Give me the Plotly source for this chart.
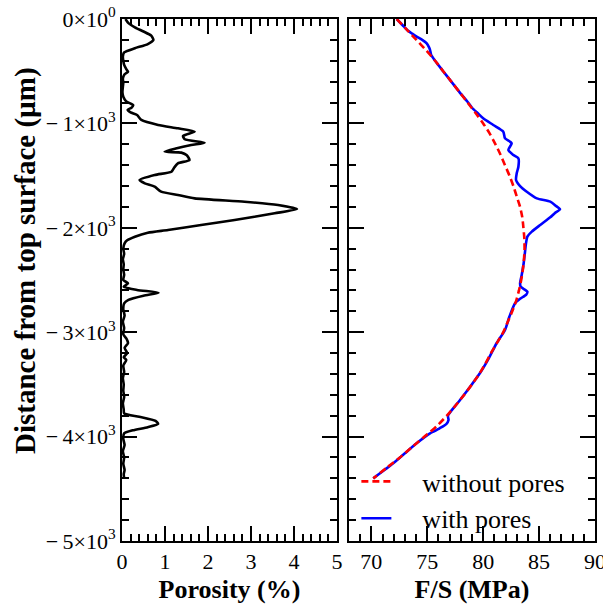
import plotly.graph_objects as go

# ---------------- data ----------------
# Left panel: porosity (%) vs distance from top surface (µm)
por_depth = [0, -40, -80, -120, -160, -200, -240, -280, -320, -360, -400, -440, -480, -505, -530,
             -570, -610, -650, -700, -745, -790, -825, -850, -870, -895, -920, -967, -1015, -1047,
             -1079, -1121, -1152, -1185, -1207, -1240, -1271, -1280, -1303, -1351, -1382, -1420,
             -1463, -1494, -1542, -1574, -1606, -1654, -1686, -1718, -1750, -1782, -1820, -1861,
             -1925, -1973, -2021, -2047, -2085, -2120, -2149, -2200, -2250, -2300, -2350, -2400,
             -2450, -2500, -2532, -2564, -2595, -2622, -2650, -2690, -2723, -2780, -2840, -2900,
             -2960, -3020, -3060, -3105, -3150, -3200, -3240, -3265, -3320, -3380, -3440, -3500,
             -3560, -3620, -3680, -3740, -3777, -3810, -3850, -3879, -3910, -3940, -3969, -4020,
             -4080, -4140, -4200, -4260, -4320, -4360, -4400]
porosity = [0.08, 0.15, 0.3, 0.5, 0.68, 0.73, 0.6, 0.3, 0.05, 0.02, 0.03, 0.05, 0.1, 0.14, 0.06,
            0.02, 0.03, 0.02, 0.01, 0.03, 0.1, 0.26, 0.22, 0.13, 0.2, 0.35, 0.45, 0.84, 1.3,
            1.69, 1.42, 1.46, 1.92, 1.61, 1.25, 0.99, 1.38, 1.5, 1.57, 1.3, 1.22,
            1.15, 0.76, 0.41, 0.53, 0.76, 0.91, 1.3, 1.69, 2.85, 3.63, 4.07, 3.55,
            2.62, 1.84, 1.07, 0.6, 0.3, 0.12, 0.06, 0.03, 0.05, 0.02, 0.04, 0.03,
            0.05, 0.03, 0.14, 0.04, 0.35, 0.85, 0.5, 0.15, 0.05, 0.03, 0.06, 0.02,
            0.05, 0.03, 0.1, 0.14, 0.06, 0.12, 0.04, 0.1, 0.03, 0.05, 0.02, 0.04,
            0.03, 0.05, 0.02, 0.04, 0.05, 0.4, 0.78, 0.84, 0.6, 0.25, 0.05, 0.03,
            0.06, 0.02, 0.05, 0.03, 0.06, 0.04, 0.05]

# Right panel: F/S (MPa) vs distance
fs_depth_nopore = [0, -100, -200, -300, -400, -500, -600, -700, -800, -900, -1000, -1100, -1200,
                   -1300, -1400, -1500, -1600, -1700, -1800, -1900, -2000, -2100, -2200, -2300,
                   -2400, -2500, -2600, -2700, -2800, -2900, -3000, -3100, -3200, -3300, -3400,
                   -3500, -3600, -3700, -3800, -3900, -4000, -4100, -4200, -4300, -4400]
fs_nopore = [72.27, 73.15, 74.03, 74.9, 75.7, 76.42, 77.15, 77.88, 78.6, 79.32, 80.0, 80.6, 81.1,
             81.55, 81.95, 82.35, 82.7, 83.0, 83.3, 83.5, 83.6, 83.68, 83.7, 83.65,
             83.55, 83.4, 83.2, 82.95, 82.6, 82.2, 81.8, 81.25, 80.7, 80.2, 79.65,
             79.0, 78.3, 77.55, 76.75, 75.85, 74.75, 73.65, 72.55, 71.35, 70.17]

fs_depth_pore = [0, -60, -105, -140, -169, -200, -233, -270, -297, -345, -400, -500, -600, -700,
                 -800, -850, -900, -951, -1015, -1079, -1143, -1175, -1191, -1255, -1303, -1334,
                 -1415, -1478, -1542, -1600, -1654, -1718, -1750, -1790, -1823, -1860, -1900,
                 -1973, -2037, -2085, -2149, -2250, -2340, -2450, -2532, -2564, -2612, -2640,
                 -2680, -2723, -2850, -2979, -3106, -3250, -3394, -3520, -3649, -3760, -3800,
                 -3841, -3880, -3921, -3950, -3969, -4064, -4160, -4256, -4400]
fs_pore = [72.27, 72.8, 73.2, 73.65, 74.05, 74.55, 74.95, 75.15, 75.25, 75.35, 75.7, 76.42, 77.15,
           77.88, 78.65, 79.0, 79.5, 80.0, 80.9, 81.8, 81.95, 82.4, 82.55, 82.25, 82.7, 83.15,
           83.15, 83.0, 82.94, 83.3, 83.9, 84.8, 86.0, 86.5, 86.87, 86.4, 86.0,
           85.1, 84.35, 83.95, 83.83, 83.72, 83.62, 83.45, 83.3, 83.35, 83.95, 83.85,
           83.3, 82.85, 82.35, 81.95, 81.2, 80.5, 79.7, 78.85, 77.93, 77.1, 76.85,
           76.9, 76.7, 76.1, 75.6, 75.25, 74.05, 73.0, 71.96, 70.17]

MINUS = "−\u2009"
y_tickvals = [0, -1000, -2000, -3000, -4000, -5000]
y_ticktext = ["0×10<sup>0</sup>", MINUS + "1×10<sup>3</sup>", MINUS + "2×10<sup>3</sup>",
              MINUS + "3×10<sup>3</sup>", MINUS + "4×10<sup>3</sup>", MINUS + "5×10<sup>3</sup>"]
x1_tickvals = [0, 1, 2, 3, 4, 5]
x2_tickvals = [70, 75, 80, 85, 90]

FONT = "'Liberation Serif', 'Times New Roman', Times, serif"
PAD = "\u00a0" * 4

fig = go.Figure()
fig.add_trace(go.Scatter(x=porosity, y=por_depth, mode="lines", xaxis="x", yaxis="y",
                         line=dict(color="black", width=2.6, shape="spline", smoothing=0.6),
                         showlegend=False))
fig.add_trace(go.Scatter(x=fs_pore, y=fs_depth_pore, mode="lines", xaxis="x2", yaxis="y2",
                         name=PAD + "with pores", legendrank=2,
                         line=dict(color="#0000ff", width=2.6, shape="spline", smoothing=0.6)))
fig.add_trace(go.Scatter(x=fs_nopore, y=fs_depth_nopore, mode="lines", xaxis="x2", yaxis="y2",
                         name=PAD + "without pores", legendrank=1,
                         line=dict(color="#ff0000", width=2.6, dash="7px,4px",
                                   shape="spline", smoothing=0.6)))

common_axis = dict(showline=True, linewidth=2, linecolor="black", mirror="allticks",
                   ticks="inside", ticklen=15, tickwidth=2, tickcolor="black",
                   showgrid=False, zeroline=False, automargin=False,
                   ticklabeloverflow="allow",
                   tickfont=dict(family=FONT, size=22, color="black"))

fig.update_layout(
    width=603, height=609,
    margin=dict(l=122, r=8, t=19, b=68),
    paper_bgcolor="white", plot_bgcolor="white",
    font=dict(family=FONT, color="black"),
    xaxis=dict(domain=[0, 0.4545], range=[0, 5], tickvals=x1_tickvals,
               minor=dict(dtick=0.2, ticks="inside", ticklen=7, tickwidth=1.5, tickcolor="black"),
               title=dict(text="Porosity (%)", font=dict(family=FONT, size=26, weight="bold"),
                          standoff=6),
               anchor="y", **common_axis),
    yaxis=dict(domain=[0, 1], range=[-5000, 0], tickvals=y_tickvals, ticktext=y_ticktext,
               minor=dict(dtick=200, ticks="inside", ticklen=7, tickwidth=1.5, tickcolor="black"),
               anchor="x", **common_axis),
    xaxis2=dict(domain=[0.4799, 1], range=[68, 90], tickvals=x2_tickvals,
                minor=dict(dtick=1, ticks="inside", ticklen=7, tickwidth=1.5, tickcolor="black"),
                title=dict(text="F/S (MPa)", font=dict(family=FONT, size=26, weight="bold"),
                           standoff=6),
                anchor="y2", **common_axis),
    yaxis2=dict(domain=[0, 1], range=[-5000, 0], tickvals=y_tickvals, showticklabels=False,
                minor=dict(dtick=200, ticks="inside", ticklen=7, tickwidth=1.5, tickcolor="black"),
                anchor="x2", matches="y", **common_axis),
    legend=dict(x=0.4955, y=0.159, xanchor="left", yanchor="top",
                bgcolor="rgba(0,0,0,0)", font=dict(family=FONT, size=26, color="black"),
                tracegroupgap=0),
    annotations=[dict(text="Distance from top surface (µm)", textangle=-90,
                      xref="paper", yref="paper", x=-0.2051, y=0.5383,
                      xanchor="center", yanchor="middle", showarrow=False,
                      font=dict(family=FONT, size=29, weight="bold", color="black"))],
)

fig.write_html("out.html")
